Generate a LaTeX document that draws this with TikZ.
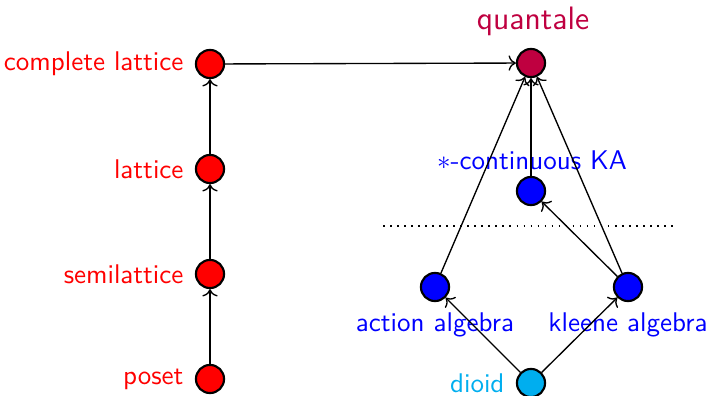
\documentclass[tikz,border=0pt]{standalone}
\usetikzlibrary{arrows.meta}
\definecolor{dioidc}{RGB}{0,174,239}
\definecolor{quantc}{RGB}{191,0,64}
\begin{document}
\begin{tikzpicture}[x=0.37pt,y=-0.37pt,
  dot/.style={circle,draw=black,line width=0.8pt,minimum size=10.4pt,inner sep=0pt},
  lab/.style={font=\sffamily,inner sep=0pt},
  arr/.style={->,line width=0.5pt}]
\useasboundingbox (0,0) rectangle (707,396);
\node[dot,fill=red] (cl) at (210,64) {};
\node[dot,fill=red] (la) at (210,169) {};
\node[dot,fill=red] (sl) at (210,274) {};
\node[dot,fill=red] (po) at (210,379) {};
\node[dot,fill=quantc] (qu) at (531,63) {};
\node[dot,fill=blue] (ka) at (531,191) {};
\node[dot,fill=blue] (aa) at (435,287) {};
\node[dot,fill=blue] (kl) at (628,287) {};
\node[dot,fill=dioidc] (di) at (531,383) {};
\node[lab,text=red,anchor=east] (tcl) at (184,64) {complete lattice};
\node[lab,text=red,anchor=east] (tla) at (184,169) {lattice};
\node[lab,text=red,anchor=east] (tsl) at (184,274) {semilattice};
\node[lab,text=red,anchor=east] (tpo) at (184,379) {poset};
\node[lab,text=quantc,font=\sffamily\large] (tqu) at (533,21) {quantale};
\node[lab,text=blue] (tka) at (532,160) {$\ast$-continuous KA};
\node[lab,text=blue] (taa) at (435,325) {action algebra};
\node[lab,text=blue] (tkl) at (628,325) {kleene algebra};
\node[lab,text=dioidc,anchor=east] (tdi) at (505,383) {dioid};
\coordinate (d1) at (383,226);
\coordinate (d2) at (677,226);
\draw[dotted,line width=0.6pt] (d1) -- (d2);
\draw[arr] (po) -- (sl);
\draw[arr] (sl) -- (la);
\draw[arr] (la) -- (cl);
\draw[arr] (cl) -- (qu);
\draw[arr] (ka) -- (qu);
\draw[arr] (aa) -- (qu);
\draw[arr] (kl) -- (qu);
\draw[arr] (kl) -- (ka);
\draw[arr] (di) -- (aa);
\draw[arr] (di) -- (kl);
\end{tikzpicture}
\end{document}
